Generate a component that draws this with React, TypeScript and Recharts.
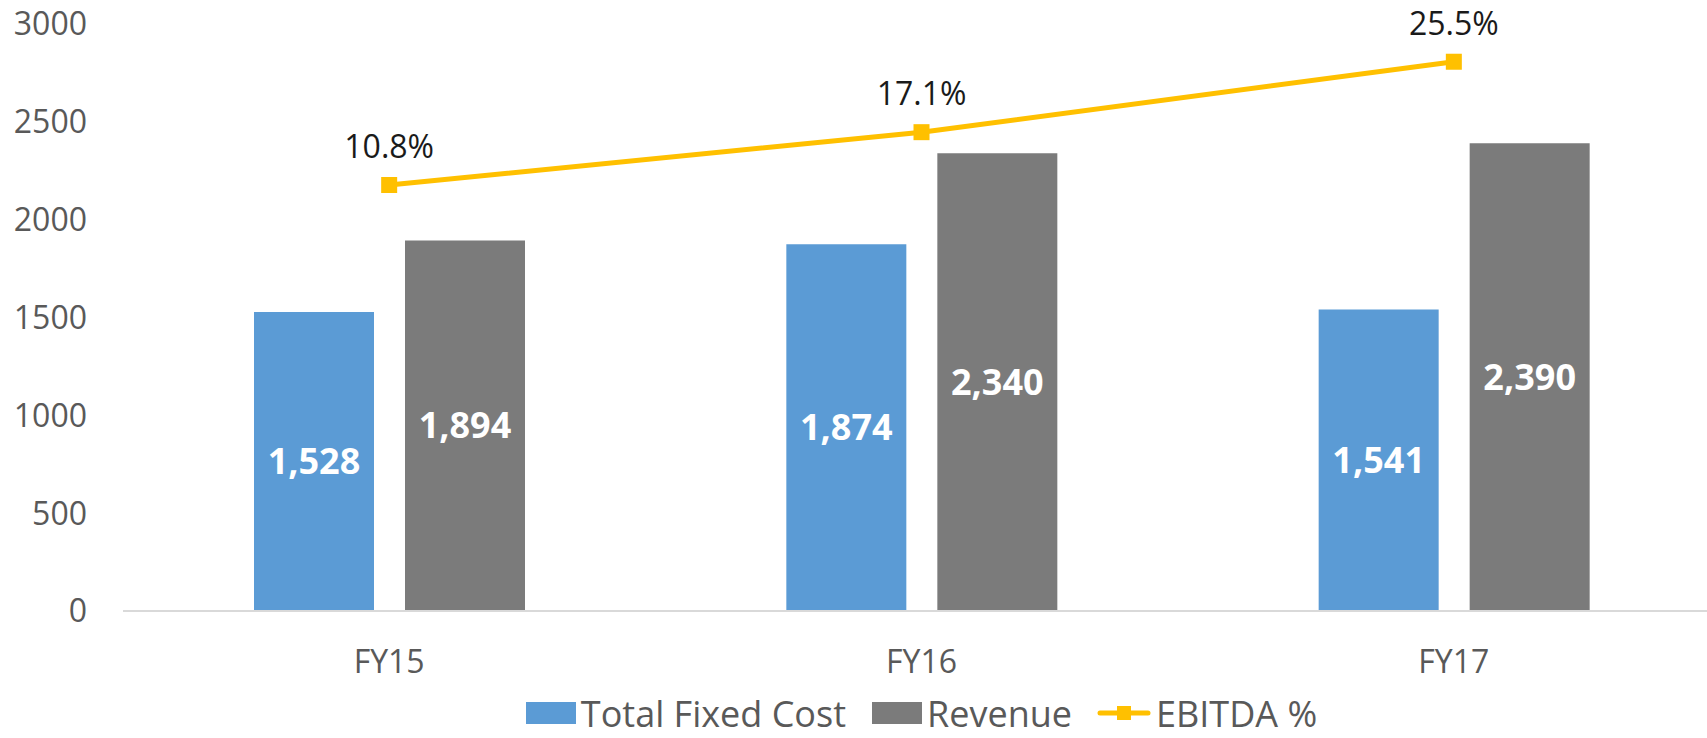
import React from "react";
import {
  ComposedChart,
  Bar,
  Line,
  XAxis,
  YAxis,
  Legend,
  LabelList,
} from "recharts";

const years = ["FY15", "FY16", "FY17"];
const totalFixedCost = [1528, 1874, 1541];
const revenue = [1894, 2340, 2390];
const ebitdaPct = [10.8, 17.1, 25.5];
const yTicks = [0, 500, 1000, 1500, 2000, 2500, 3000];

const data = years.map((y, i) => ({
  year: y,
  cost: totalFixedCost[i],
  revenue: revenue[i],
  ebitda: ebitdaPct[i],
}));

const BLUE = "#5B9BD5";
const GRAY = "#7B7B7B";
const GOLD = "#FFC000";
const FONT = "'Open Sans', sans-serif";

const SquareDot = (props: any) => {
  const { cx, cy } = props;
  if (cx == null || cy == null) return null;
  return <rect key={`d-${cx}`} x={cx - 8} y={cy - 8} width={16} height={16} fill={GOLD} />;
};

function ChartLegend() {
  const text = { fontSize: 36, color: "#595959", fontFamily: FONT, lineHeight: "49px" };
  return (
    <div
      style={{
        display: "flex",
        justifyContent: "center",
        alignItems: "center",
        paddingLeft: 123,
        paddingTop: 7,
        height: 57,
        boxSizing: "border-box",
        width: "100%",
      }}
    >
      <span style={{ width: 50, height: 22, background: BLUE, marginRight: 5 }} />
      <span style={{ ...text, marginRight: 26 }}>Total Fixed Cost</span>
      <span style={{ width: 50, height: 22, background: GRAY, marginRight: 5 }} />
      <span style={{ ...text, marginRight: 25 }}>Revenue</span>
      <svg width={54} height={22} style={{ marginRight: 5 }}>
        <line x1={3} y1={11} x2={51} y2={11} stroke={GOLD} strokeWidth={5} strokeLinecap="round" />
        <rect x={20} y={4} width={14} height={14} fill={GOLD} />
      </svg>
      <span style={text}>EBITDA %</span>
    </div>
  );
}

export default function App() {
  return (
    <div
      style={{
        position: "absolute",
        left: 0,
        top: 0,
        width: 1707,
        height: 738,
        overflow: "hidden",
        background: "#fff",
      }}
    >
      <ComposedChart
        width={1720}
        height={738}
        data={data}
        margin={{ top: 24, right: 0, bottom: 0, left: 0 }}
        barGap={31}
        style={{ fontFamily: FONT }}
      >
        <XAxis
          dataKey="year"
          height={70}
          axisLine={{ stroke: "#D9D9D9", strokeWidth: 2 }}
          tickLine={false}
          tickMargin={33}
          tick={{ fill: "#595959", fontSize: 32, fontFamily: FONT }}
        />
        <YAxis
          yAxisId="left"
          width={123}
          domain={[0, 3000]}
          ticks={yTicks}
          axisLine={false}
          tickLine={false}
          tickMargin={30}
          tick={{ fill: "#595959", fontSize: 32, fontFamily: FONT }}
        />
        <YAxis yAxisId="right" orientation="right" hide domain={[-40, 30]} />
        <Legend verticalAlign="bottom" height={57} content={() => <ChartLegend />} />
        <Bar yAxisId="left" dataKey="cost" name="Total Fixed Cost" fill={BLUE} barSize={120} isAnimationActive={false}>
          <LabelList
            dataKey="cost"
            position="center"
            fill="#fff"
            fontSize={36}
            fontWeight="bold"
            fontFamily={FONT}
            formatter={(v: any) => Number(v).toLocaleString("en-US")}
          />
        </Bar>
        <Bar yAxisId="left" dataKey="revenue" name="Revenue" fill={GRAY} barSize={120} isAnimationActive={false}>
          <LabelList
            dataKey="revenue"
            position="center"
            fill="#fff"
            fontSize={36}
            fontWeight="bold"
            fontFamily={FONT}
            formatter={(v: any) => Number(v).toLocaleString("en-US")}
          />
        </Bar>
        <Line
          yAxisId="right"
          dataKey="ebitda"
          name="EBITDA %"
          type="linear"
          stroke={GOLD}
          strokeWidth={5}
          dot={<SquareDot />}
          activeDot={false}
          isAnimationActive={false}
        >
          <LabelList
            dataKey="ebitda"
            position="top"
            offset={27}
            fill="#1a1a1a"
            fontSize={32}
            fontFamily={FONT}
            formatter={(v: any) => `${Number(v).toFixed(1)}%`}
          />
        </Line>
      </ComposedChart>
    </div>
  );
}
